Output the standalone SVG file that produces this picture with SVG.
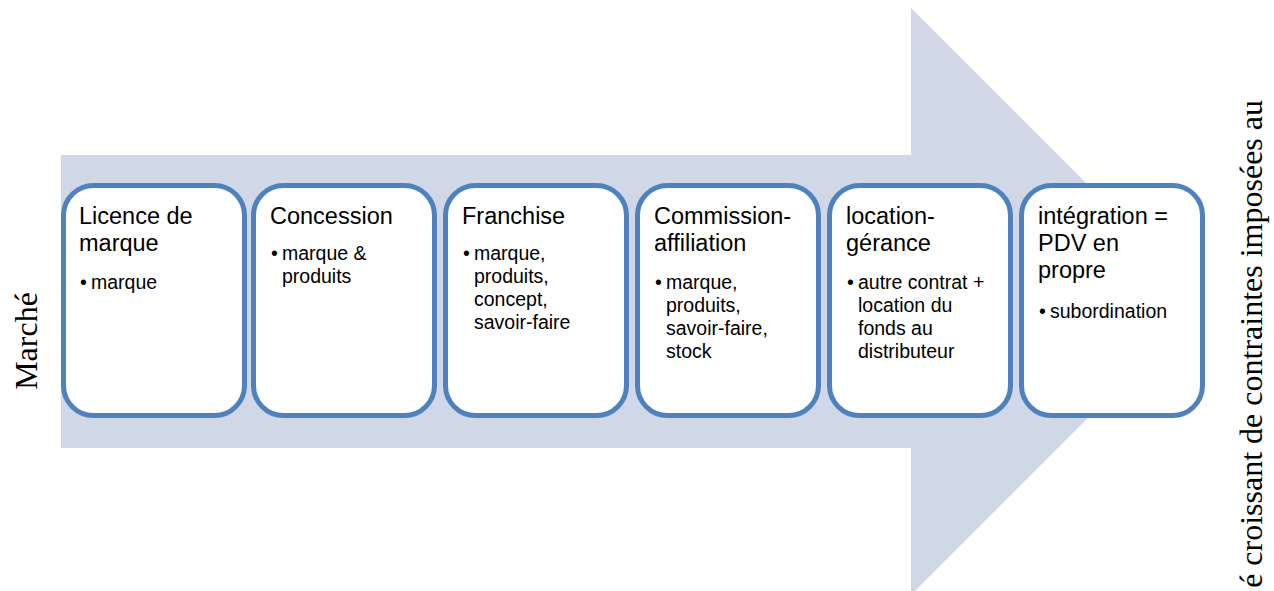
<svg xmlns="http://www.w3.org/2000/svg" width="1274" height="591" viewBox="0 0 1274 591">
<style>
.box{fill:#ffffff;stroke:#4f81bd;stroke-width:5}
.t{font-family:"Liberation Sans",Arial,sans-serif;font-size:23.5px;fill:#000}
.b{font-family:"Liberation Sans",Arial,sans-serif;font-size:19.5px;fill:#000}
.side{font-family:"Liberation Serif","Times New Roman",serif;font-size:32px;fill:#000}
</style>
<rect width="1274" height="591" fill="#ffffff"/>
<g id="arrow">
<polygon points="61,155 911,155 911,8 1204.5,301.5 911,595 911,448 61,448" fill="#d0d8e8"/>
</g>
<g id="connectors"></g>
<g id="label-marche">
<text class="side" transform="translate(37,341) rotate(-90)" text-anchor="middle">Marché</text>
</g>
<g id="label-right">
<text class="side" transform="translate(1262,100) rotate(-90)" text-anchor="end">é croissant de contraintes imposées au</text>
</g>
<g id="n1">
<rect class="box" x="63.5" y="185.5" width="181" height="230" rx="30"/>
<text class="t" x="79" y="224">Licence de</text>
<text class="t" x="79" y="251">marque</text>
<text class="b" x="80" y="289">•</text>
<text class="b" x="91" y="289">marque</text>
</g>
<g id="n2">
<rect class="box" x="253.5" y="185.5" width="181" height="230" rx="30"/>
<text class="t" x="270" y="224">Concession</text>
<text class="b" x="271" y="260">•</text>
<text class="b" x="282" y="260">marque &amp;</text>
<text class="b" x="282" y="283">produits</text>
</g>
<g id="n3">
<rect class="box" x="445.5" y="185.5" width="181" height="230" rx="30"/>
<text class="t" x="462" y="224">Franchise</text>
<text class="b" x="463" y="260">•</text>
<text class="b" x="474" y="260">marque,</text>
<text class="b" x="474" y="283">produits,</text>
<text class="b" x="474" y="306">concept,</text>
<text class="b" x="474" y="329">savoir-faire</text>
</g>
<g id="n4">
<rect class="box" x="637.5" y="185.5" width="181" height="230" rx="30"/>
<text class="t" x="654" y="224">Commission-</text>
<text class="t" x="654" y="251">affiliation</text>
<text class="b" x="655" y="289">•</text>
<text class="b" x="666" y="289">marque,</text>
<text class="b" x="666" y="312">produits,</text>
<text class="b" x="666" y="335">savoir-faire,</text>
<text class="b" x="666" y="358">stock</text>
</g>
<g id="n5">
<rect class="box" x="829.5" y="185.5" width="181" height="230" rx="30"/>
<text class="t" x="846" y="224">location-</text>
<text class="t" x="846" y="251">gérance</text>
<text class="b" x="847" y="289">•</text>
<text class="b" x="858" y="289">autre contrat +</text>
<text class="b" x="858" y="312">location du</text>
<text class="b" x="858" y="335">fonds au</text>
<text class="b" x="858" y="358">distributeur</text>
</g>
<g id="n6">
<rect class="box" x="1021.5" y="185.5" width="181" height="230" rx="30"/>
<text class="t" x="1038" y="224">intégration =</text>
<text class="t" x="1038" y="251">PDV en</text>
<text class="t" x="1038" y="278">propre</text>
<text class="b" x="1039" y="318">•</text>
<text class="b" x="1050" y="318">subordination</text>
</g>
</svg>
